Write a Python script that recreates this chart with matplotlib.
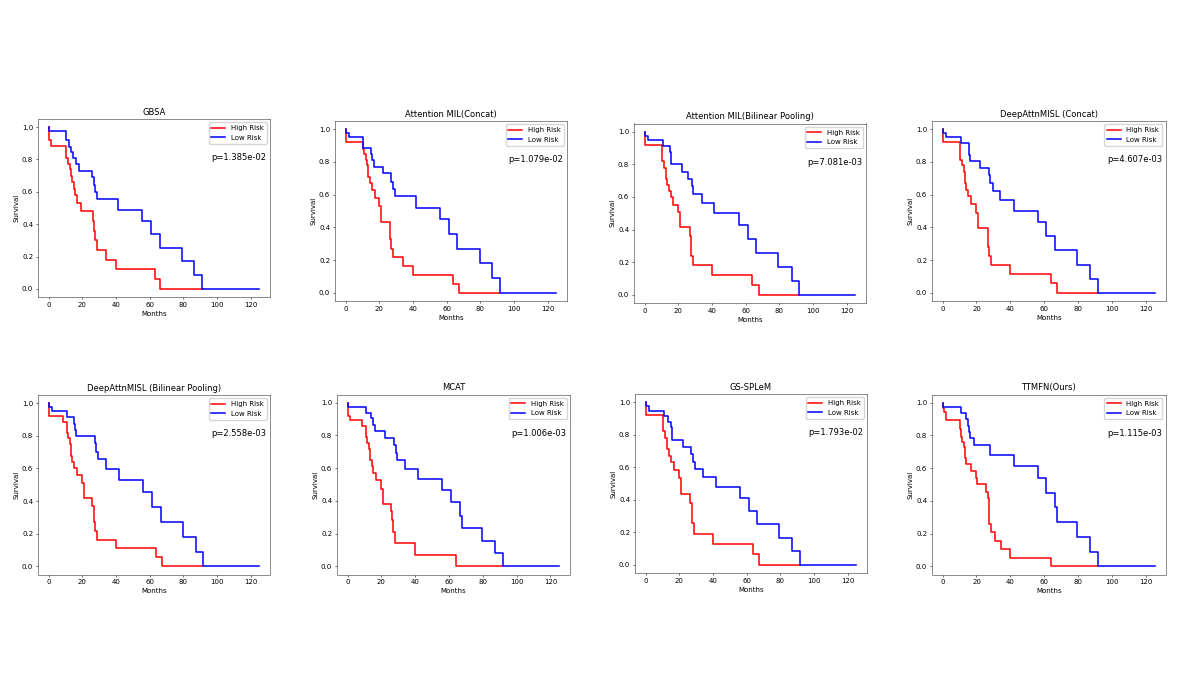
import matplotlib
matplotlib.use("Agg")
import matplotlib.pyplot as plt

# ---- data (step curves: time in months, survival after step)
titles = ["GBSA", "Attention MIL(Concat)", "Attention MIL(Bilinear Pooling)",
          "DeepAttnMISL (Concat)", "DeepAttnMISL (Bilinear Pooling)", "MCAT",
          "GS-SPLeM", "TTMFN(Ours)"]
p_values = ["1.385e-02", "1.079e-02", "7.081e-03", "4.607e-03",
            "2.558e-03", "1.006e-03", "1.793e-02", "1.115e-03"]

gbsa_high_t = [0, 0.3, 1.5, 10.5, 11.5, 12.5, 13.3, 14, 15, 15.8, 17, 19.5, 26.5, 27, 27.5, 28.5, 34, 40, 63.5, 66.5, 91.7]
gbsa_high_s = [1.0, 0.92, 0.885, 0.81, 0.77, 0.74, 0.70, 0.66, 0.62, 0.58, 0.53, 0.48, 0.42, 0.36, 0.30, 0.24, 0.18, 0.12, 0.06, 0.0, 0.0]
gbsa_low_t = [0, 0.3, 10.2, 12, 13.3, 14.3, 16.2, 18, 25.7, 27.1, 27.8, 28.9, 41.4, 55.8, 61, 66, 79, 86.7, 91.2, 125.3]
gbsa_low_s = [1.0, 0.975, 0.92, 0.88, 0.845, 0.81, 0.77, 0.73, 0.69, 0.645, 0.60, 0.555, 0.49, 0.42, 0.34, 0.255, 0.17, 0.085, 0.0, 0.0]

amil_cat_high_t = [0, 0.3, 10.3, 11, 12, 13, 13.5, 14.5, 16, 17.5, 20, 21, 26.7, 27.3, 28.3, 33.9, 39.8, 64, 67.5, 91.7]
amil_cat_high_s = [1.0, 0.92, 0.88, 0.85, 0.81, 0.78, 0.71, 0.67, 0.63, 0.58, 0.53, 0.435, 0.33, 0.27, 0.22, 0.165, 0.11, 0.055, 0.0, 0.0]
amil_cat_low_t = [0, 0.3, 2, 10.5, 15.4, 16, 17, 22, 27.3, 28, 29.3, 41.8, 56.4, 61.4, 66.5, 79.6, 87.3, 92, 125.3]
amil_cat_low_s = [1.0, 0.975, 0.95, 0.885, 0.85, 0.81, 0.77, 0.73, 0.68, 0.635, 0.59, 0.52, 0.45, 0.36, 0.27, 0.18, 0.09, 0.0, 0.0]

amil_bp_high_t = [0, 0.5, 10.5, 11.5, 12.5, 13.5, 14.5, 15.5, 17, 20, 21, 27, 27.5, 28.5, 39.8, 64, 67.7, 92]
amil_bp_high_s = [1.0, 0.92, 0.82, 0.78, 0.71, 0.675, 0.635, 0.60, 0.55, 0.51, 0.415, 0.36, 0.24, 0.18, 0.12, 0.06, 0.0, 0.0]
amil_bp_low_t = [0, 0.5, 2, 10.7, 15, 15.5, 16, 22, 25.7, 28, 29, 34, 41.5, 56.2, 61.3, 66.5, 79.5, 87.4, 92, 125.3]
amil_bp_low_s = [1.0, 0.975, 0.95, 0.915, 0.875, 0.84, 0.80, 0.755, 0.71, 0.665, 0.615, 0.56, 0.50, 0.425, 0.34, 0.255, 0.17, 0.085, 0.0, 0.0]

dam_cat_high_t = [0, 0.5, 10.5, 11.5, 12.5, 13.5, 14, 15, 17, 20, 21, 26.6, 27.5, 28.5, 39.8, 64, 67.3, 91.7]
dam_cat_high_s = [1.0, 0.92, 0.81, 0.78, 0.74, 0.67, 0.63, 0.59, 0.54, 0.49, 0.395, 0.28, 0.225, 0.17, 0.115, 0.06, 0.0, 0.0]
dam_cat_low_t = [0, 0.5, 2, 10.6, 15.4, 15.8, 16.3, 22.2, 27.4, 28.2, 29.5, 34, 41.9, 56.3, 61.2, 66.3, 79.3, 87, 91.7, 125.3]
dam_cat_low_s = [1.0, 0.975, 0.95, 0.915, 0.875, 0.84, 0.805, 0.76, 0.72, 0.67, 0.62, 0.565, 0.50, 0.43, 0.345, 0.26, 0.17, 0.085, 0.0, 0.0]

dam_bp_high_t = [0, 0.5, 8.5, 10.7, 11.5, 12.5, 13.2, 14, 15, 17, 20, 21, 26, 27, 27.5, 28.5, 39.8, 64, 67.5, 91.7]
dam_bp_high_s = [1.0, 0.92, 0.885, 0.82, 0.785, 0.75, 0.675, 0.64, 0.605, 0.56, 0.51, 0.42, 0.37, 0.27, 0.215, 0.16, 0.11, 0.055, 0.0, 0.0]
dam_bp_low_t = [0, 0.5, 2, 10.7, 15, 15.6, 16.2, 27.7, 28.3, 29.5, 34, 41.6, 56.4, 61.6, 66.7, 79.8, 87.5, 92, 125.3]
dam_bp_low_s = [1.0, 0.975, 0.95, 0.915, 0.875, 0.835, 0.80, 0.755, 0.70, 0.655, 0.595, 0.53, 0.455, 0.365, 0.27, 0.18, 0.09, 0.0, 0.0]

mcat_high_t = [0, 0.2, 0.5, 1.5, 8.8, 10.6, 11.5, 12.5, 13.5, 14.3, 15, 17, 20, 21, 25.8, 26.5, 27, 28.2, 39.8, 64.2, 91.7]
mcat_high_s = [1.0, 0.96, 0.92, 0.895, 0.86, 0.79, 0.755, 0.72, 0.65, 0.61, 0.57, 0.525, 0.475, 0.38, 0.335, 0.285, 0.21, 0.14, 0.07, 0.0, 0.0]
mcat_low_t = [0, 0.3, 10.8, 13.6, 15.2, 16, 22.2, 27.4, 28.5, 29.5, 34, 41.7, 56.1, 61.2, 66.2, 67.5, 79.3, 87.2, 91.7, 125.3]
mcat_low_s = [1.0, 0.975, 0.94, 0.905, 0.865, 0.83, 0.785, 0.74, 0.695, 0.65, 0.595, 0.535, 0.465, 0.39, 0.31, 0.235, 0.155, 0.08, 0.0, 0.0]

gs_high_t = [0, 0.5, 10.5, 11.5, 12.5, 13, 14, 15, 17, 20, 21, 26.7, 27.5, 28.5, 39.8, 63.8, 67.2, 91.7]
gs_high_s = [1.0, 0.92, 0.82, 0.78, 0.745, 0.71, 0.67, 0.63, 0.58, 0.535, 0.435, 0.38, 0.255, 0.19, 0.13, 0.065, 0.0, 0.0]
gs_low_t = [0, 0.5, 2, 10.7, 13.5, 15, 15.5, 16, 22, 27, 28, 29.3, 33.9, 41.6, 56.2, 61.2, 66.1, 79.2, 87.1, 91.7, 125.3]
gs_low_s = [1.0, 0.975, 0.945, 0.915, 0.88, 0.845, 0.81, 0.77, 0.725, 0.68, 0.635, 0.59, 0.54, 0.48, 0.41, 0.33, 0.25, 0.165, 0.085, 0.0, 0.0]

ttmfn_high_t = [0, 0.3, 1, 2, 10.4, 10.8, 11.5, 12.5, 13.5, 14, 17, 20, 20.5, 25.8, 26.5, 27.2, 28.3, 31, 34.2, 39.8, 64.2, 91.7]
ttmfn_high_s = [1.0, 0.97, 0.945, 0.895, 0.84, 0.79, 0.76, 0.73, 0.66, 0.625, 0.58, 0.54, 0.50, 0.455, 0.415, 0.26, 0.21, 0.155, 0.105, 0.05, 0.0, 0.0]
ttmfn_low_t = [0, 0.3, 10.6, 13.8, 15, 15.5, 16.2, 18.7, 28, 41.9, 56.1, 61.2, 66.1, 67.3, 79.5, 87.2, 91.7, 125.3]
ttmfn_low_s = [1.0, 0.975, 0.94, 0.90, 0.86, 0.82, 0.785, 0.74, 0.68, 0.615, 0.54, 0.45, 0.36, 0.27, 0.18, 0.09, 0.0, 0.0]

curves = [
    (gbsa_high_t, gbsa_high_s, gbsa_low_t, gbsa_low_s),
    (amil_cat_high_t, amil_cat_high_s, amil_cat_low_t, amil_cat_low_s),
    (amil_bp_high_t, amil_bp_high_s, amil_bp_low_t, amil_bp_low_s),
    (dam_cat_high_t, dam_cat_high_s, dam_cat_low_t, dam_cat_low_s),
    (dam_bp_high_t, dam_bp_high_s, dam_bp_low_t, dam_bp_low_s),
    (mcat_high_t, mcat_high_s, mcat_low_t, mcat_low_s),
    (gs_high_t, gs_high_s, gs_low_t, gs_low_s),
    (ttmfn_high_t, ttmfn_high_s, ttmfn_low_t, ttmfn_low_s),
]

# ---- layout: axes boxes in pixels (left, top, right, bottom)
W, H = 1196, 673
axes_px = [
    (38, 119, 270, 297), (335, 121, 567, 301), (634, 123.5, 866, 303), (932, 121, 1165.5, 301),
    (38, 395, 270, 574.5), (337, 394.5, 570, 574.5), (635, 394, 867, 573), (932, 394.5, 1165.5, 574.5),
]

sc = 0.5  # panels look like default 6.4x4.8 figures shrunk down
plt.rcParams.update({
    "font.size": 10 * sc,
    "axes.titlesize": 12 * sc,
    "axes.titlepad": 6 * sc,
    "axes.labelpad": 4 * sc,
    "axes.linewidth": 0.8 * sc,
    "axes.edgecolor": "#333333",
    "lines.linewidth": 1.1,
    "xtick.major.size": 3.5 * sc,
    "ytick.major.size": 3.5 * sc,
    "xtick.major.width": 0.8 * sc,
    "ytick.major.width": 0.8 * sc,
    "xtick.major.pad": 3.5 * sc,
    "ytick.major.pad": 3.5 * sc,
    "legend.fontsize": 10 * sc,
})

fig = plt.figure(figsize=(W / 100, H / 100), dpi=100)

for i, (l, t, r, b) in enumerate(axes_px):
    ax = fig.add_axes([l / W, 1 - b / H, (r - l) / W, (b - t) / H])
    ht, hs, lt, ls = curves[i]
    ax.step(ht, hs, where="post", color="red", label="High Risk")
    ax.step(lt, ls, where="post", color="blue", label="Low Risk")
    ax.set_title(titles[i])
    ax.set_xlabel("Months")
    ax.set_ylabel("Survival")
    ax.legend(loc="upper right")
    ax.text(0.985, 0.785, "p=" + p_values[i], transform=ax.transAxes,
            ha="right", va="center", fontsize=12 * sc)

plt.savefig("out.png", dpi=100)
